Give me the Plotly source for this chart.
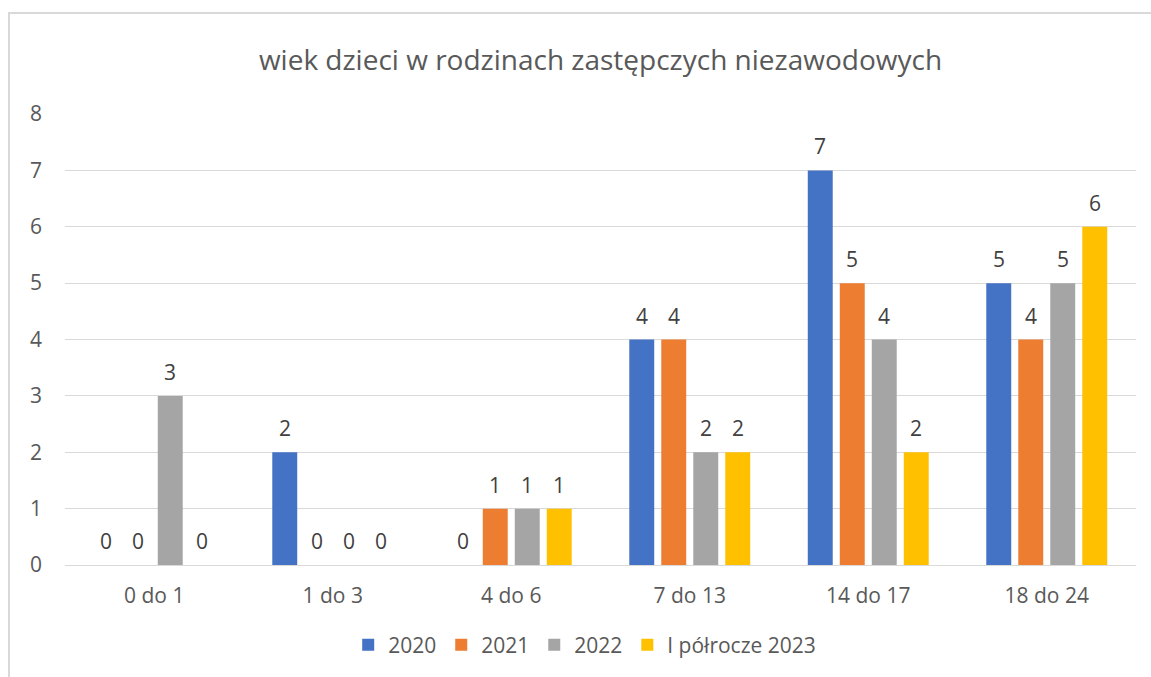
import plotly.graph_objects as go

categories = ["0 do 1", "1 do 3", "4 do 6", "7 do 13", "14 do 17", "18 do 24"]
series_names = ["2020", "2021", "2022", "I półrocze 2023"]
v2020 = [0, 2, 0, 4, 7, 5]
v2021 = [0, 0, 1, 4, 5, 4]
v2022 = [3, 0, 1, 2, 4, 5]
v2023 = [0, 0, 1, 2, 2, 6]
colors = ["#4472C4", "#ED7D31", "#A5A5A5", "#FFC000"]
y_ticks = [0, 1, 2, 3, 4, 5, 6, 7, 8]
title = "wiek dzieci w rodzinach zastępczych niezawodowych"

FONT = "'Open Sans', sans-serif"
W, H = 1151, 677
ML, MR, MT, MB = 65, 15, 114, 112
BARGAP = 0.283
series = [v2020, v2021, v2022, v2023]

fig = go.Figure()
for name, vals, col in zip(series_names, series, colors):
    fig.add_trace(go.Bar(
        x=categories, y=vals, name=name, marker_color=col, marker_line_width=0,
    ))

# data labels, placed above each bar through the axes
plot_w = W - ML - MR
slot = plot_w / len(categories) * (1 - BARGAP) / len(series)
for i, vals in enumerate(series):
    for cat, v in zip(categories, vals):
        fig.add_annotation(x=cat, y=v, xref="x", yref="y", text=str(v), showarrow=False,
                           xshift=(i - (len(series) - 1) / 2) * slot, yshift=24, yanchor="middle",
                           font=dict(size=21, color="#404040", family=FONT))

fig.update_layout(
    width=W, height=H,
    paper_bgcolor="white", plot_bgcolor="white",
    margin=dict(l=ML, r=MR, t=MT, b=MB),
    barmode="group", bargap=BARGAP, bargroupgap=0.22,
    title=dict(text=title, x=0.5, xref="paper", y=1 - 60/677, yref="container", yanchor="middle",
               font=dict(size=28, color="#595959", family=FONT)),
    xaxis=dict(showgrid=False, showline=False, ticks="", automargin=False, ticklabelstandoff=16,
               tickfont=dict(size=21, color="#595959", family=FONT)),
    yaxis=dict(range=[0, 8], tickvals=y_ticks, showgrid=True, gridcolor="#D9D9D9", gridwidth=1,
               zeroline=True, zerolinecolor="#D9D9D9", zerolinewidth=1, showline=False, ticks="",
               automargin=False, ticklabelstandoff=22, tickfont=dict(size=21, color="#595959", family=FONT)),
    legend=dict(orientation="h", x=0.508, xanchor="center", xref="container", y=32/677, yref="container", yanchor="middle",
                font=dict(size=21, color="#595959", family=FONT), traceorder="normal", itemwidth=30),
    showlegend=True,
)
fig.add_shape(type="rect", xref="paper", yref="paper", x0=-56/1071, x1=1.2, y0=-0.5, y1=(565-13)/451,
              line=dict(color="#D9D9D9", width=2), fillcolor="rgba(0,0,0,0)", layer="below")
fig.write_html("out.html", config={"displayModeBar": False},
               post_script="document.body.style.margin='0';document.body.style.overflow='hidden';")
